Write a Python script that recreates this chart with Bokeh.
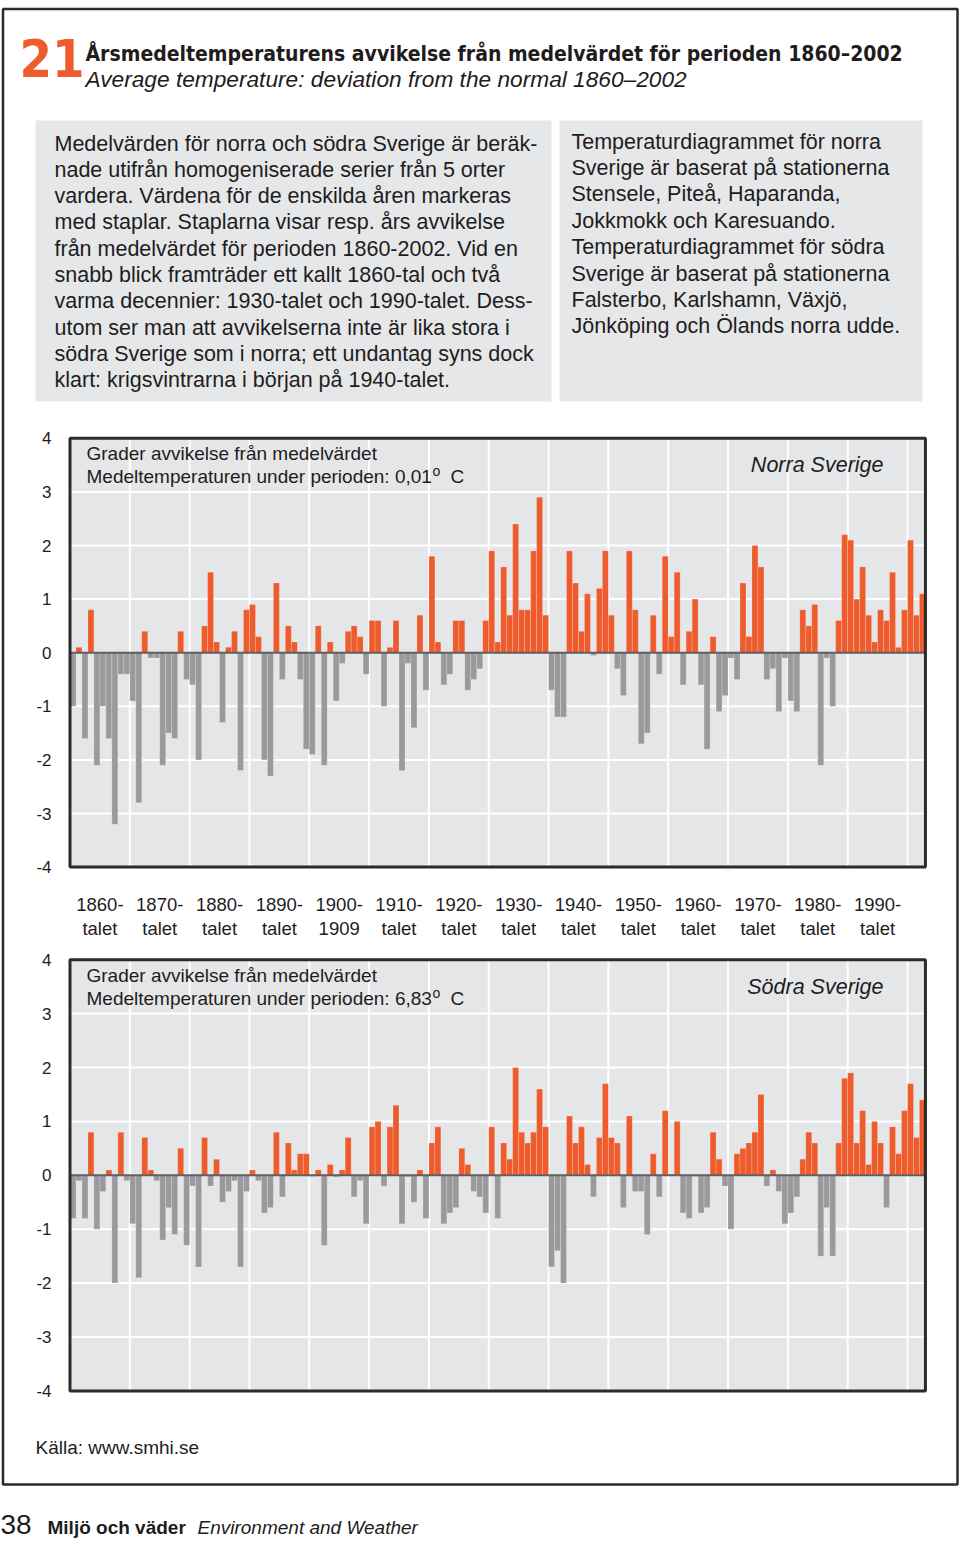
from bokeh.plotting import figure
from bokeh.models import Range1d, ColumnDataSource
from bokeh.core.properties import value
from bokeh.embed import file_html
from bokeh.resources import INLINE

# ---------------- data ----------------
years = list(range(1860, 2003))

north = [
    -1.0, 0.1, -1.6, 0.8, -2.1, -1.0, -1.6, -3.2, -0.4, -0.4,
    -0.9, -2.8, 0.4, -0.1, -0.1, -2.1, -1.5, -1.6, 0.4, -0.5,
    -0.6, -2.0, 0.5, 1.5, 0.2, -1.3, 0.1, 0.4, -2.2, 0.8,
    0.9, 0.3, -2.0, -2.3, 1.3, -0.5, 0.5, 0.2, -0.5, -1.8,
    -1.9, 0.5, -2.1, 0.2, -0.9, -0.2, 0.4, 0.5, 0.3, -0.4,
    0.6, 0.6, -1.0, 0.1, 0.6, -2.2, -0.2, -1.4, 0.7, -0.7,
    1.8, 0.2, -0.6, -0.4, 0.6, 0.6, -0.7, -0.5, -0.3, 0.6,
    1.9, 0.2, 1.6, 0.7, 2.4, 0.8, 0.8, 1.9, 2.9, 0.7,
    -0.7, -1.2, -1.2, 1.9, 1.3, 0.4, 1.1, -0.05, 1.2, 1.9,
    0.7, -0.3, -0.8, 1.9, 0.8, -1.7, -1.5, 0.7, -0.4, 1.8,
    0.3, 1.5, -0.6, 0.4, 1.0, -0.6, -1.8, 0.3, -1.1, -0.8,
    -0.1, -0.5, 1.3, 0.3, 2.0, 1.6, -0.5, -0.3, -1.1, -0.1,
    -0.9, -1.1, 0.8, 0.5, 0.9, -2.1, -0.1, -1.0, 0.6, 2.2,
    2.1, 1.0, 1.6, 0.7, 0.2, 0.8, 0.6, 1.5, 0.1, 0.8,
    2.1, 0.7, 1.1,
]

south = [
    -0.8, -0.1, -0.8, 0.8, -1.0, -0.3, 0.1, -2.0, 0.8, -0.1,
    -0.9, -1.9, 0.7, 0.1, -0.1, -1.2, -0.6, -1.1, 0.5, -1.3,
    -0.2, -1.7, 0.7, -0.2, 0.3, -0.5, -0.3, -0.1, -1.7, -0.3,
    0.1, -0.1, -0.7, -0.6, 0.8, -0.4, 0.6, 0.1, 0.4, 0.4,
    -0.02, 0.1, -1.3, 0.2, -0.03, 0.1, 0.7, -0.4, -0.1, -0.9,
    0.9, 1.0, -0.2, 0.9, 1.3, -0.9, -0.03, -0.5, 0.1, -0.8,
    0.6, 0.9, -0.9, -0.7, -0.6, 0.5, 0.2, -0.3, -0.4, -0.7,
    0.9, -0.8, 0.6, 0.3, 2.0, 0.8, 0.6, 0.8, 1.6, 0.9,
    -1.7, -1.4, -2.0, 1.1, 0.6, 0.9, 0.2, -0.4, 0.7, 1.7,
    0.7, 0.6, -0.6, 1.1, -0.3, -0.3, -1.1, 0.4, -0.4, 1.2,
    0.02, 1.0, -0.7, -0.8, -0.02, -0.7, -0.6, 0.8, 0.3, -0.2,
    -1.0, 0.4, 0.5, 0.6, 0.8, 1.5, -0.2, 0.1, -0.3, -0.9,
    -0.7, -0.4, 0.3, 0.8, 0.6, -1.5, -0.6, -1.5, 0.6, 1.8,
    1.9, 0.6, 1.2, 0.2, 1.0, 0.6, -0.6, 0.9, 0.4, 1.2,
    1.7, 0.7, 1.4,
]

yticks = [4, 3, 2, 1, 0, -1, -2, -3, -4]
ytick_labels = ["4", "3", "2", "1", "0", "-1", "-2", "-3", "-4"]
hgrid = [-3, -2, -1, 1, 2, 3]
decades = [1860, 1870, 1880, 1890, 1900, 1910, 1920, 1930, 1940, 1950, 1960, 1970, 1980, 1990]
decade_line1 = [f"{d}-" for d in decades]
decade_line2 = ["talet", "talet", "talet", "talet", "1909", "talet", "talet",
                "talet", "talet", "talet", "talet", "talet", "talet", "talet"]
grid_decades = list(range(1870, 2001, 10))

title_sv = "Årsmedeltemperaturens avvikelse från medelvärdet för perioden 1860–2002"
title_en = "Average temperature: deviation from the normal 1860–2002"
left_box = [
    "Medelvärden för norra och södra Sverige är beräk-",
    "nade utifrån homogeniserade serier från 5 orter",
    "vardera. Värdena för de enskilda åren markeras",
    "med staplar. Staplarna visar resp. års avvikelse",
    "från medelvärdet för perioden 1860-2002. Vid en",
    "snabb blick framträder ett kallt 1860-tal och två",
    "varma decennier: 1930-talet och 1990-talet. Dess-",
    "utom ser man att avvikelserna inte är lika stora i",
    "södra Sverige som i norra; ett undantag syns dock",
    "klart: krigsvintrarna i början på 1940-talet.",
]
right_box = [
    "Temperaturdiagrammet för norra",
    "Sverige är baserat på stationerna",
    "Stensele, Piteå, Haparanda,",
    "Jokkmokk och Karesuando.",
    "Temperaturdiagrammet för södra",
    "Sverige är baserat på stationerna",
    "Falsterbo, Karlshamn, Växjö,",
    "Jönköping och Ölands norra udde.",
]

# ---------------- layout constants (page pixels) ----------------
W, H = 960, 1542
FONT = "Liberation Sans"
COND = "DejaVu Sans Condensed, Liberation Sans"
INK = "#1f1c1d"
ORANGE = "#EE5B2C"
GRAY = "#9A9A9D"
PANEL_BG = "#E5E6E8"
BOX_BG = "#E6E7E8"

PX0, PW = 69.5, 5.982          # left edge of 1860 bar, px per year
N0, NS = 652.2, 53.6           # north panel: zero line, px per degree
S0, SS = 1174.8, 53.9          # south panel

p = figure(width=W, height=H, x_range=Range1d(0, W), y_range=Range1d(H, 0),
           output_backend="svg", toolbar_location=None, min_border=0,
           x_axis_location=None, y_axis_location=None)
p.outline_line_color = None
p.grid.visible = False
p.background_fill_color = "white"
p.border_fill_color = "white"

p.extra_x_ranges = {"yr": Range1d(1859.5 + (0 - PX0) / PW, 1859.5 + (W - PX0) / PW)}
p.extra_y_ranges = {
    "n": Range1d((N0 - H) / NS, (N0 - 0) / NS),
    "s": Range1d((S0 - H) / SS, (S0 - 0) / SS),
}


def txt(x, y, s, size, style="normal", color=INK, align="left", font=FONT, **kw):
    xs = x if isinstance(x, list) else [x]
    ys = y if isinstance(y, list) else [y] * len(xs)
    ss = s if isinstance(s, list) else [s]
    if len(xs) == 1 and len(ss) > 1:
        xs = xs * len(ss)
    p.text(x=xs, y=ys, text=ss, text_font=value(font), text_font_size=size,
           text_font_style=style, text_color=color, text_align=align,
           text_baseline="middle", **kw)


# outer frame
p.quad(left=[2.5], right=[957], top=[8.5], bottom=[1484], fill_color=None,
       line_color="#2b2b2b", line_width=2.5)

# header
txt(19, 57, "21", "52px", style="bold", color=ORANGE, font=COND)
txt(85, 53, title_sv, "21px", style="bold", font=COND)
txt(85, 78, title_en, "22.7px", style="italic")

# text boxes
p.quad(left=[35, 559], right=[551, 922], top=[120, 120], bottom=[401, 401],
       fill_color=BOX_BG, line_color=None)
txt(54, [143 + 26.3 * i for i in range(len(left_box))], left_box, "21.5px")
txt(571, [141 + 26.4 * i for i in range(len(right_box))], right_box, "21.5px")


def panel(vals, yname, mean_txt, region, head_y):
    src = ColumnDataSource(dict(year=years, val=vals,
                                color=[ORANGE if v > 0 else GRAY for v in vals]))
    kw = dict(x_range_name="yr", y_range_name=yname)
    p.quad(left=[1859.5], right=[2002.5], bottom=[-4], top=[4],
           fill_color=PANEL_BG, line_color=None, **kw)
    p.segment(x0=1859.5, x1=2002.5, y0=hgrid, y1=hgrid, line_color="white", line_width=2, **kw)
    gx = [d - 0.5 for d in grid_decades]
    p.segment(x0=gx, x1=gx, y0=-4, y1=4, line_color="white", line_width=2, **kw)
    p.vbar(x="year", top="val", bottom=0, width=1, source=src, fill_color="color",
           line_color="white", line_alpha=0.35, line_width=0.6, **kw)
    p.segment(x0=[1859.5], x1=[2002.5], y0=[0], y1=[0], line_color="#5f5f5f", line_width=2, **kw)
    p.quad(left=[1859.5], right=[2002.5], bottom=[-4], top=[4], fill_color=None,
           line_color="#2b2b2b", line_width=3, **kw)
    p.text(x=[51] * len(yticks), y=yticks, text=ytick_labels, y_range_name=yname,
           text_font=value(FONT), text_font_size="17px", text_color=INK,
           text_align="right", text_baseline="middle")
    txt(86, head_y, "Grader avvikelse från medelvärdet", "19px")
    txt(86, head_y + 23, "Medeltemperaturen under perioden: " + mean_txt, "19px")
    txt(432, head_y + 17, "o", "14px")
    txt(450, head_y + 23, "C", "19px")
    txt(883, head_y + 11, region, "21.5px", style="italic", align="right")


panel(north, "n", "0,01", "Norra Sverige", 453)
panel(south, "s", "6,83", "Södra Sverige", 975)

# decade labels
centers = [d + 4.5 for d in decades]
p.text(x=centers, y=[904] * len(centers), text=decade_line1, x_range_name="yr",
       text_font=value(FONT), text_font_size="18.5px", text_color=INK,
       text_align="center", text_baseline="middle")
p.text(x=centers, y=[928] * len(centers), text=decade_line2, x_range_name="yr",
       text_font=value(FONT), text_font_size="18.5px", text_color=INK,
       text_align="center", text_baseline="middle")

# source + footer
txt(35, 1447, "Källa: www.smhi.se", "19px")
txt(0, 1524, "38", "28px")
txt(47, 1527, "Miljö och väder", "19px", style="bold")
txt(197, 1527, "Environment and Weather", "19px", style="italic")

open("out.html", "w").write(file_html(p, INLINE))
